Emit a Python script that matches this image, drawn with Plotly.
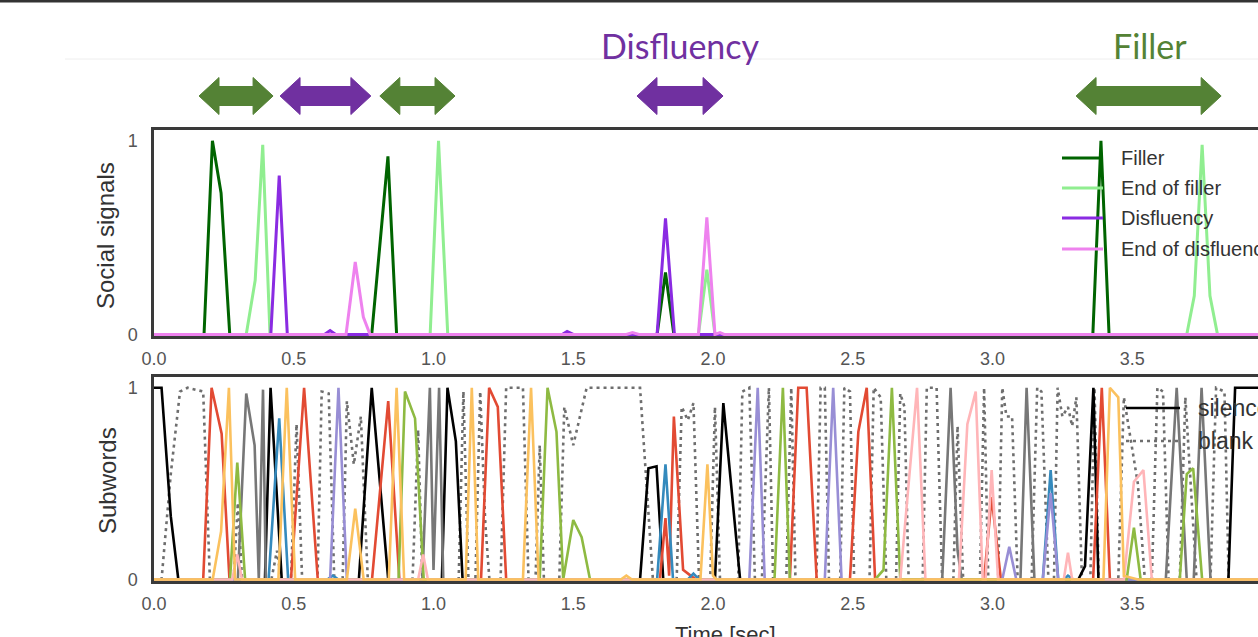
import plotly.graph_objects as go

# ---------------- data ----------------
# Social signals panel
filler_t = [0, 0.179, 0.209, 0.240, 0.271, 0.779, 0.837, 0.868, 1.800, 1.830, 1.860, 3.359, 3.388, 3.417, 4.0]
filler_v = [0, 0, 1.0, 0.73, 0, 0, 0.92, 0, 0, 0.32, 0, 0, 1.0, 0, 0]
end_filler_t = [0, 0.330, 0.362, 0.389, 0.415, 0.988, 1.018, 1.051, 1.948, 1.978, 2.007, 3.695, 3.722, 3.750, 3.778, 3.805, 4.0]
end_filler_v = [0, 0, 0.28, 0.98, 0, 0, 1.0, 0, 0, 0.335, 0, 0, 0.2, 0.98, 0.2, 0, 0]
disfl_t = [0, 0.418, 0.448, 0.477, 0.610, 0.630, 0.650, 1.460, 1.478, 1.500, 1.800, 1.830, 1.862, 4.0]
disfl_v = [0, 0, 0.82, 0, 0, 0.02, 0, 0, 0.015, 0, 0, 0.60, 0, 0]
end_disfl_t = [0, 0.687, 0.720, 0.749, 0.773, 1.690, 1.712, 1.735, 1.948, 1.978, 2.007, 2.025, 2.040, 4.0]
end_disfl_v = [0, 0, 0.374, 0.09, 0, 0, 0.01, 0, 0, 0.605, 0, 0.01, 0, 0]

# Subwords panel
silence_t = [0, 0.027, 0.060, 0.087, 0.397, 0.417, 0.457, 0.733, 0.779, 0.838, 1.030, 1.050, 1.080, 1.104,
             1.739, 1.769, 1.798, 1.822, 2.007, 2.037, 2.097, 3.307, 3.331, 3.361, 3.379, 3.844, 3.868, 4.0]
silence_v = [1.0, 1.0, 0.33, 0, 0, 1.0, 0, 0, 1.0, 0, 0, 1.0, 0.72, 0,
             0, 0.58, 0.59, 0, 0, 0.92, 0, 0, 0.07, 1.0, 0, 0, 1.0, 1.0]
blank_t = [0, 0.027, 0.060, 0.093, 0.120, 0.176, 0.200, 0.285, 0.300, 0.315, 0.420, 0.440, 0.455,
           0.490, 0.510, 0.530, 0.585, 0.600, 0.625, 0.645, 0.675, 0.690, 0.715, 0.740, 0.765,
           0.925, 0.945, 0.960, 1.090, 1.107, 1.125, 1.150, 1.167, 1.185, 1.200,
           1.240, 1.260, 1.320, 1.340, 1.365, 1.380, 1.395,
           1.450, 1.468, 1.500, 1.548, 1.739, 1.763, 1.785,
           1.870, 1.888, 1.910, 1.930, 1.950, 1.990, 2.007, 2.025,
           2.090, 2.105, 2.130, 2.150, 2.175, 2.200, 2.215, 2.262, 2.280, 2.295,
           2.370, 2.385, 2.400, 2.415, 2.455, 2.470, 2.490, 2.505,
           2.560, 2.575, 2.600, 2.620, 2.655, 2.670, 2.685, 2.700,
           2.750, 2.765, 2.800, 2.820, 2.860, 2.875, 2.895, 2.955, 2.970, 2.985,
           3.020, 3.035, 3.050, 3.070, 3.090, 3.140, 3.160, 3.175, 3.200,
           3.220, 3.233, 3.250, 3.270, 3.285, 3.300, 3.320, 3.350, 3.365, 3.380,
           3.450, 3.470, 3.520, 3.545, 3.570, 3.590, 3.610, 3.630,
           3.670, 3.690, 3.710, 3.730, 3.780, 3.800, 3.830, 3.845, 4.0]
blank_v = [0, 0, 0.55, 0.98, 1.0, 0.98, 0, 0, 0.40, 0, 0, 0.15, 0,
           0, 0.81, 0, 0, 0.98, 0.97, 0, 0, 0.93, 0.60, 0.85, 0,
           0, 0.78, 0, 0, 0.98, 0, 0, 0.98, 0.30, 0,
           0, 1.0, 1.0, 0, 0, 0.70, 0,
           0, 0.90, 0.70, 1.0, 1.0, 0.50, 0,
           0, 0.90, 0.83, 0.92, 0, 0, 0.90, 0,
           0, 0.98, 1.0, 0, 0, 1.0, 0, 0, 1.0, 0,
           0, 1.0, 1.0, 0, 0, 1.0, 0.98, 0,
           0, 1.0, 0.95, 0, 0, 0.97, 0.90, 0,
           0, 1.0, 1.0, 0, 0, 0.80, 0, 0, 1.0, 0,
           0, 1.0, 0.85, 0.85, 0, 0, 1.0, 0.98, 0,
           0, 1.0, 0.85, 0.90, 0.80, 0.95, 0, 0, 1.0, 0,
           0, 0.95, 0.50, 0, 0, 1.0, 0.98, 0,
           0, 0.95, 0.50, 0, 0, 1.0, 0.98, 0, 0]
red_t = [0, 0.176, 0.206, 0.242, 0.270, 0.490, 0.537, 0.586, 0.780, 0.838, 0.878,
         1.170, 1.199, 1.230, 1.260, 1.810, 1.830, 1.843, 1.860, 1.893, 1.920, 1.940,
         2.275, 2.305, 2.335, 2.371, 2.490, 2.520, 2.550, 2.580, 2.970, 2.997, 3.030,
         3.360, 3.391, 3.420, 4.0]
red_v = [0, 0, 1.0, 0.76, 0, 0, 1.0, 0, 0, 0.93, 0,
         0, 1.0, 0.90, 0, 0, 0.32, 0.02, 0.85, 0.05, 0.02, 0,
         0, 1.0, 1.0, 0, 0, 0.77, 1.0, 0, 0, 0.43, 0,
         0, 1.0, 0, 0]
blue_t = [0, 0.410, 0.448, 0.480, 0.620, 0.640, 0.660, 1.800, 1.830, 1.857, 1.910, 1.930, 1.950,
          3.180, 3.208, 3.235, 3.255, 3.270, 3.290, 4.0]
blue_v = [0, 0, 0.84, 0, 0, 0.02, 0, 0, 0.60, 0, 0, 0.03, 0,
          0, 0.57, 0, 0, 0.02, 0, 0]
purple_t = [0, 0.630, 0.660, 0.690, 2.130, 2.160, 2.185, 2.400, 2.430, 2.460,
            3.035, 3.060, 3.085, 3.180, 3.208, 3.235, 4.0]
purple_v = [0, 0, 1.0, 0, 0, 1.0, 0, 0, 1.0, 0,
            0, 0.17, 0, 0, 0.45, 0, 0]
gray_t = [0, 0.300, 0.330, 0.360, 0.375, 0.390, 0.400, 0.960, 0.987, 1.000, 1.020, 1.035,
          2.820, 2.850, 2.875, 2.890, 3.100, 3.122, 3.150, 3.620, 3.659, 3.695, 3.720, 3.748, 3.780, 4.0]
gray_v = [0, 0, 0.97, 0.70, 0, 0.99, 0, 0, 1.0, 0.05, 1.0, 0,
          0, 1.0, 0.15, 0, 0, 1.0, 0, 0, 1.0, 0, 0, 1.0, 0, 0]
green_t = [0, 0.272, 0.298, 0.326, 0.875, 0.898, 0.934, 0.965, 1.380, 1.408, 1.440, 1.464, 1.500, 1.530, 1.560,
           2.220, 2.250, 2.275, 2.580, 2.610, 2.640, 2.670, 3.480, 3.506, 3.530, 3.670, 3.695, 3.718, 3.750, 4.0]
green_v = [0, 0, 0.61, 0, 0, 0.98, 0.84, 0, 0, 1.0, 0.77, 0, 0.31, 0.22, 0,
           0, 1.0, 0, 0, 0.05, 1.0, 0, 0, 0.27, 0, 0, 0.55, 0.58, 0, 0]
pink_t = [0, 0.280, 0.298, 0.315, 0.945, 0.963, 0.980, 2.670, 2.730, 2.760, 2.880, 2.910, 2.940, 2.965,
          2.975, 2.997, 3.020, 3.255, 3.270, 3.285, 3.470, 3.506, 3.540, 3.570, 4.0]
pink_v = [0, 0, 0.13, 0, 0, 0.13, 0, 0, 1.0, 0, 0, 0.81, 0.98, 0,
          0, 0.57, 0, 0, 0.14, 0, 0, 0.51, 0.57, 0, 0]
orange_t = [0, 0.210, 0.240, 0.268, 0.290, 0.445, 0.475, 0.505, 0.690, 0.720, 0.750, 0.840, 0.868, 0.895,
            1.115, 1.137, 1.160, 1.320, 1.349, 1.376, 1.670, 1.690, 1.710, 1.955, 1.980, 2.000, 2.012,
            3.397, 3.420, 3.450, 3.470, 3.520, 4.0]
orange_v = [0, 0, 0.25, 1.0, 0, 0, 1.0, 0, 0, 0.37, 0, 0, 1.0, 0,
            0, 1.0, 0, 0, 1.0, 0, 0, 0.02, 0, 0, 0.60, 0.02, 0,
            0, 1.0, 0.95, 0.02, 0, 0]

# event arrows above the chart
arrow_start = [0.161, 0.451, 0.808, 1.728, 3.299]
arrow_end = [0.426, 0.776, 1.077, 2.036, 3.818]
arrow_kind = ["Filler", "Disfluency", "Filler", "Disfluency", "Filler"]
event_labels = ["Disfluency", "Filler"]
event_label_t = [1.882, 3.563]

x_ticks = [0.0, 0.5, 1.0, 1.5, 2.0, 2.5, 3.0, 3.5]

# ---------------- figure ----------------
W, H = 1258, 637
ML, MR, MT, MB = 154, 0, 130, 56
PW, PH = W - ML - MR, H - MT - MB


def px(x):
    return (x - ML) / PW


def py(y):
    return (H - MB - y) / PH


FONT = "Liberation Sans, Arial, sans-serif"
EVENT_COL = {"Filler": "#548235", "Disfluency": "#7030A0"}

fig = go.Figure()

social = [
    ("Filler", filler_t, filler_v, "#006400"),
    ("End of filler", end_filler_t, end_filler_v, "#90EE90"),
    ("Disfluency", disfl_t, disfl_v, "#8A2BE2"),
    ("End of disfluency", end_disfl_t, end_disfl_v, "#EE82EE"),
]
for name, t, v, c in social:
    fig.add_trace(go.Scatter(x=t, y=v, mode="lines", name=name, line=dict(color=c, width=3),
                             xaxis="x", yaxis="y", showlegend=False))

subwords = [
    ("blank", blank_t, blank_v, "#6e6e6e", "3px,4px"),
    ("silence", silence_t, silence_v, "#000000", "solid"),
    ("tok_gray", gray_t, gray_v, "#777777", "solid"),
    ("tok_red", red_t, red_v, "#E24A33", "solid"),
    ("tok_blue", blue_t, blue_v, "#348ABD", "solid"),
    ("tok_purple", purple_t, purple_v, "#988ED5", "solid"),
    ("tok_green", green_t, green_v, "#8EBA42", "solid"),
    ("tok_pink", pink_t, pink_v, "#FFB5B8", "solid"),
    ("tok_orange", orange_t, orange_v, "#FBC15E", "solid"),
]
for name, t, v, c, d in subwords:
    fig.add_trace(go.Scatter(x=t, y=v, mode="lines", name=name, line=dict(color=c, width=2.6, dash=d),
                             xaxis="x2", yaxis="y2", showlegend=False))

ax_common = dict(showgrid=False, zeroline=False, showline=True, linecolor="#3a3a3a", linewidth=2.5,
                 tickfont=dict(family=FONT, size=18, color="#555555"), ticks="")
top_dom = [py(336), 1.0]
bot_dom = [0.0, py(377)]
xr = [0, (W - ML) / 279.5]
fig.update_layout(
    width=W, height=H,
    margin=dict(l=ML, r=MR, t=MT, b=MB, autoexpand=False),
    plot_bgcolor="white", paper_bgcolor="white",
    showlegend=False,
    xaxis=dict(ax_common, domain=[0, 1], range=xr, anchor="y", mirror=True,
               tickvals=x_ticks, tickformat=".1f", ticklabelstandoff=5),
    yaxis=dict(ax_common, domain=top_dom, range=[-0.008, 1.056], anchor="x", mirror=False,
               tickvals=[0, 1], ticklabelstandoff=10),
    xaxis2=dict(ax_common, domain=[0, 1], range=xr, anchor="y2", mirror=True,
                tickvals=x_ticks, tickformat=".1f", ticklabelstandoff=5),
    yaxis2=dict(ax_common, domain=bot_dom, range=[-0.008, 1.056], anchor="x2", mirror=False,
                tickvals=[0, 1], ticklabelstandoff=10),
)

shapes = []
annotations = []
# frame line at the very top and faint separator
shapes.append(dict(type="line", xref="paper", yref="paper", x0=px(0), x1=1.0, y0=py(1), y1=py(1),
                   line=dict(color="#333333", width=3)))
shapes.append(dict(type="line", xref="paper", yref="paper", x0=px(65), x1=1.0, y0=py(59), y1=py(59),
                   line=dict(color="#eeeeee", width=1)))

# double arrows
yc = py(96)
sh = 9.5 / PH
hh = 18.5 / PH
hl = 20 / 279.5
for a, b, k in zip(arrow_start, arrow_end, arrow_kind):
    path = (f"M {a},{yc} L {a+hl},{yc+hh} L {a+hl},{yc+sh} L {b-hl},{yc+sh} L {b-hl},{yc+hh} "
            f"L {b},{yc} L {b-hl},{yc-hh} L {b-hl},{yc-sh} L {a+hl},{yc-sh} L {a+hl},{yc-hh} Z")
    shapes.append(dict(type="path", xref="x", yref="paper", path=path,
                       fillcolor=EVENT_COL[k], line=dict(color=EVENT_COL[k], width=1)))

for lab, t in zip(event_labels, event_label_t):
    annotations.append(dict(text=lab, x=t, y=py(45), xref="x", yref="paper", showarrow=False,
                            xanchor="center", yanchor="middle",
                            font=dict(family="Lato, Open Sans, sans-serif", size=34, color=EVENT_COL[lab])))

# axis titles
annotations.append(dict(text="Social signals", x=px(105), y=py(236), xref="paper", yref="paper",
                        showarrow=False, textangle=-90, xanchor="center", yanchor="middle",
                        font=dict(family=FONT, size=24, color="#333333")))
annotations.append(dict(text="Subwords", x=px(107), y=py(481), xref="paper", yref="paper",
                        showarrow=False, textangle=-90, xanchor="center", yanchor="middle",
                        font=dict(family=FONT, size=24, color="#333333")))
annotations.append(dict(text="Time [sec]", x=px(725), y=py(634), xref="paper", yref="paper",
                        showarrow=False, xanchor="center", yanchor="middle",
                        font=dict(family=FONT, size=22, color="#333333")))

# legend for social signals
leg1_y = [158, 188, 218, 249]
for (name, t, v, c), yy in zip(social, leg1_y):
    shapes.append(dict(type="line", xref="paper", yref="paper", x0=px(1062), x1=px(1103),
                       y0=py(yy), y1=py(yy), line=dict(color=c, width=3)))
    annotations.append(dict(text=name, x=px(1119), y=py(yy), xref="paper", yref="paper",
                            showarrow=False, xanchor="left", yanchor="middle",
                            font=dict(family=FONT, size=20, color="#333333")))

# legend for subwords
leg2 = [("silence", "#000000", "solid", 408), ("blank", "#6e6e6e", "3px,4px", 441)]
for name, c, d, yy in leg2:
    shapes.append(dict(type="line", xref="paper", yref="paper", x0=px(1126), x1=px(1180),
                       y0=py(yy), y1=py(yy), line=dict(color=c, width=2.6, dash=d)))
    annotations.append(dict(text=name, x=px(1196), y=py(yy), xref="paper", yref="paper",
                            showarrow=False, xanchor="left", yanchor="middle",
                            font=dict(family=FONT, size=23, color="#333333")))

fig.update_layout(shapes=shapes, annotations=annotations)
fig.write_html("out.html", config={"displayModeBar": False},
               post_script="document.body.style.margin='0';document.body.style.overflow='hidden';")
